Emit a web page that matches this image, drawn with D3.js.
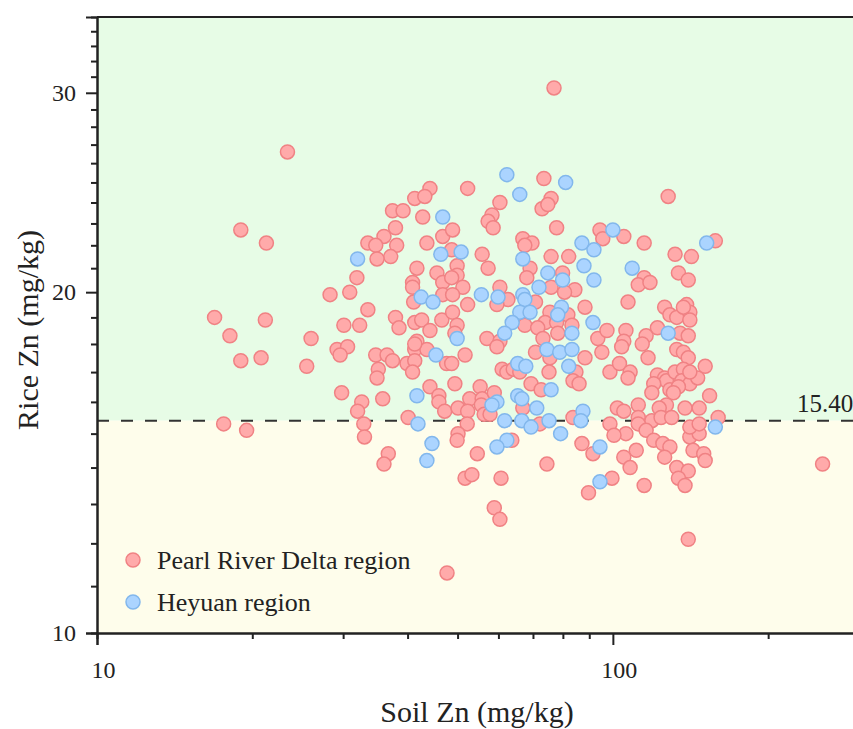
<!DOCTYPE html>
<html>
<head>
<meta charset="utf-8">
<script src="https://cdn.jsdelivr.net/npm/d3@7"></script>
<style>
  body { margin: 0; background: #fff; }
  svg { display: block; overflow: hidden; }
  text { font-family: "Liberation Serif", "Times New Roman", serif; fill: #222; }
</style>
</head>
<body>
<svg width="853" height="729"></svg>
<script>
// Data: [soil Zn, rice Zn] in mg/kg
var pearlRiver = [
  [16.9,19.0],[18.1,18.3],[19.0,22.7],[19.0,17.4],[17.6,15.3],[19.5,15.1],[20.8,17.5],[21.3,22.1],[21.2,18.9],[23.4,26.6],[25.5,17.2],[26.0,18.2],[28.3,19.9],
  [44.2,24.7],[41.3,24.2],[43.2,24.3],[37.4,23.6],[39.2,23.6],[42.8,23.3],[37.9,22.8],[36.0,22.4],[33.5,22.1],[34.7,22.0],[38.1,22.0],[43.6,22.1],[46.8,22.4],
  [37.1,21.5],[34.9,21.4],[41.7,21.0],[45.6,20.8],[31.9,20.6],[40.9,20.4],[40.9,20.2],[46.8,20.4],[30.9,20.0],[41.1,19.6],[46.8,19.9],[33.5,19.3],[37.9,19.0],
  [38.5,18.6],[30.1,18.7],[32.3,18.7],[41.3,18.8],[42.6,18.9],[44.2,18.5],[46.6,18.9],[41.7,18.1],[29.2,17.8],[30.6,17.9],[29.6,17.6],[34.7,17.6],[36.5,17.6],
  [37.4,17.4],[41.3,17.8],[43.6,17.8],
  [73.5,25.2],[52.3,24.7],[75.9,24.2],[60.4,24.0],[72.9,23.7],[74.8,23.9],[58.3,23.4],[57.3,23.1],[58.6,22.8],[77.8,22.8],[48.9,22.7],[66.9,22.3],[69.7,22.1],
  [67.5,22.0],[55.8,21.6],[57.3,21.0],[75.9,21.5],[82.1,21.5],[69.1,21.0],[48.7,21.8],[49.9,21.1],[49.9,20.7],[48.7,20.6],[79.9,20.8],[68.1,20.6],[51.2,20.2],
  [60.4,20.2],[75.9,20.2],[84.4,20.1],[80.6,20.0],[62.6,19.7],[48.9,19.9],[48.9,19.2],[52.3,19.5],[59.6,19.5],[70.8,19.6],[88.3,19.4],[75.5,19.2],[81.8,19.1],
  [73.9,18.8],[77.8,18.8],[67.5,18.7],[49.9,18.7],[49.4,18.4],[71.5,18.6],[83.3,18.7],[78.2,18.4],[57.0,18.2],[60.4,18.1],[59.6,17.9],[73.2,18.2],[93.5,18.2],
  [51.7,17.6],[70.8,17.7],[88.3,17.5],
  [128,24.3],[94.4,22.7],[95.6,22.3],[105,22.4],[115,22.1],[158,22.2],[132,21.6],[142,21.5],[134,20.8],[140,20.5],[115,20.6],[112,20.3],[118,20.4],[107,19.6],
  [126,19.4],[129,19.1],[133,19.0],[139,19.5],[141,19.2],[141,18.9],[137,19.4],[122,18.6],[135,18.4],[140,18.3],[97.4,18.5],[106,18.5],[105,18.1],[104,17.9],
  [116,18.3],[114,18.0],[133,17.8],[137,17.7],[140,17.5],[95.2,17.7],[117,17.5],
  [35.1,17.1],[34.9,16.8],[41.3,18.0],[39.9,17.3],[41.3,17.4],[40.9,17.0],[47.6,17.3],[29.8,16.3],[35.8,16.1],[32.6,16.0],[32.0,15.7],[44.2,16.5],[46.0,16.2],
  [46.0,16.0],[47.2,15.7],[40.1,15.5],[32.9,15.3],[33.0,14.9],[36.7,14.4],[36.0,14.1],
  [48.7,17.3],[75.5,17.5],[61.0,17.1],[62.3,17.0],[64.1,17.1],[66.0,17.0],[84.8,17.0],[83.7,16.7],[86.0,16.6],[75.2,17.0],[49.4,16.6],[55.3,16.5],[69.4,16.6],
  [72.6,16.4],[52.8,16.1],[50.1,15.8],[52.3,15.7],[55.8,16.1],[55.6,15.9],[58.9,16.3],[66.9,15.8],[56.3,15.6],[57.8,15.6],[83.7,15.5],[72.2,15.3],[52.2,15.3],
  [50.1,15.0],[49.9,14.8],[63.7,14.8],[87.1,14.7],[91.5,14.4],[54.6,14.4],[74.5,14.1],[51.7,13.7],[53.3,13.8],[60.7,13.7],[89.7,13.3],[58.9,12.9],[60.4,12.6],
  [98.7,17.0],[103,17.3],[108,17.0],[107,16.8],[122,16.9],[126,16.8],[127,16.7],[120,16.6],[132,17.0],[137,17.1],[136,16.7],[141,16.6],[146,16.8],[151,17.2],
  [119,16.3],[129,16.4],[134,16.5],[131,16.3],[112,15.9],[127,15.9],[123,15.8],[138,15.8],[147,15.8],[154,16.2],[102,15.8],[105,15.7],[112,15.5],[119,15.4],
  [124,15.5],[130,15.5],[112,15.3],[116,15.1],[98.7,15.3],[106,15.0],[100.5,14.95],[160,15.5],[120,14.8],[125,14.7],[129,14.6],[141,14.9],[147,15.0],[111,14.5],
  [105,14.3],[126,14.3],[143,14.5],[150,14.4],[151,14.2],[108,14.0],[133,14.0],[140,13.9],[134,13.7],[138,13.5],[99.6,13.7],[115,13.5],[140,12.1],
  [141,17.0],[141,15.2],[147,15.3],[255,14.1],[76.9,30.3],[47.7,11.3]
];

var heyuan = [
  [46.8,23.3],[32.0,21.4],[46.4,21.6],[42.5,19.8],[44.8,19.6],[45.4,17.6],[41.7,16.2],[41.9,15.3],[44.6,14.7],[43.6,14.2],
  [62.3,25.4],[81.0,25.0],[66.0,24.4],[87.1,22.1],[91.9,21.8],[50.8,21.7],[66.9,21.4],[87.9,21.1],[74.8,20.8],[79.9,20.5],
  [91.9,20.5],[71.9,20.2],[55.6,19.9],[59.9,19.8],[66.9,19.9],[67.5,19.7],[79.5,19.4],[66.0,19.2],[69.1,19.2],[78.2,19.1],
  [63.8,18.8],[91.5,18.8],[49.9,18.2],[83.3,18.4],[61.7,18.4],[74.5,17.8],[78.9,17.7],[83.3,17.8],[65.4,17.3],[67.8,17.2],
  [82.1,17.2],[75.9,16.4],[65.4,16.2],[66.6,16.1],[59.6,16.0],[58.3,15.9],[71.2,15.8],[87.5,15.7],[86.7,15.4],[61.7,15.4],
  [66.6,15.4],[69.4,15.2],[75.2,15.4],[79.2,15.0],[62.3,14.8],[59.6,14.6],[94.4,14.6],[94.4,13.6],[100,22.7],[152,22.1],
  [109,21.0],[128,18.4],[158,15.2]
];

var threshold = 15.40;
var xDomain = [10, 300];
var yDomain = [10, 35];
var yMajor = [10, 20, 30];
var yMinor = [11, 12, 13, 14, 15, 16, 17, 18, 19, 21, 22, 23, 24, 25, 26, 27, 28, 29, 31, 32, 33, 34];
var xMajor = [10, 100];
var xMinor = [20, 30, 40, 50, 60, 70, 80, 90, 200];
var legendItems = ["Pearl River Delta region", "Heyuan region"];

var svg = d3.select("svg");
var marginLeft = 97, marginTop = 17, plotW = 762, plotH = 616;
var plotBottom = marginTop + plotH;

var x = d3.scaleLog().domain(xDomain).range([marginLeft, marginLeft + plotW]);
var y = d3.scaleLog().domain(yDomain).range([plotBottom, marginTop]);

var redFill = "#ffaaaa", redStroke = "#f08284";
var blueFill = "#abd4ff", blueStroke = "#82b7ec";

// background zones
svg.append("rect")
  .attr("x", marginLeft).attr("y", marginTop)
  .attr("width", plotW).attr("height", y(threshold) - marginTop)
  .attr("fill", "#e7fce6");
svg.append("rect")
  .attr("x", marginLeft).attr("y", y(threshold))
  .attr("width", plotW).attr("height", plotBottom - y(threshold))
  .attr("fill", "#fefdeb");

// threshold line
svg.append("line")
  .attr("x1", marginLeft).attr("x2", marginLeft + plotW)
  .attr("y1", y(threshold)).attr("y2", y(threshold))
  .attr("stroke", "#333").attr("stroke-width", 2)
  .attr("stroke-dasharray", "12,12");
svg.append("text")
  .attr("x", 797).attr("y", y(threshold) - 9)
  .attr("font-size", "25px")
  .text(threshold.toFixed(2));

// points
function drawPoints(data, fill, stroke) {
  svg.append("g").selectAll("circle")
    .data(data)
    .enter()
    .append("circle")
    .attr("cx", function(d) { return x(d[0]); })
    .attr("cy", function(d) { return y(d[1]); })
    .attr("r", 7)
    .attr("fill", fill)
    .attr("stroke", stroke)
    .attr("stroke-width", 1.5);
}
drawPoints(pearlRiver, redFill, redStroke);
drawPoints(heyuan, blueFill, blueStroke);

// frame (top border)
svg.append("line")
  .attr("x1", marginLeft).attr("x2", marginLeft + plotW)
  .attr("y1", marginTop).attr("y2", marginTop)
  .attr("stroke", "#222").attr("stroke-width", 2);

// axes
function styleAxis(g) {
  g.select(".domain").attr("stroke", "#222").attr("stroke-width", 2);
  g.selectAll(".tick line").attr("stroke", "#222").attr("stroke-width", 2);
  g.selectAll(".tick text").attr("font-size", "24px").attr("fill", "#222")
    .style("font-family", "'Liberation Serif', 'Times New Roman', serif");
}

svg.append("g")
  .attr("transform", "translate(" + marginLeft + ",0)")
  .call(d3.axisLeft(y).tickValues(yMinor).tickSize(6).tickFormat(""))
  .call(styleAxis);
svg.append("g")
  .attr("transform", "translate(" + marginLeft + ",0)")
  .call(d3.axisLeft(y).tickValues(yMajor).tickSize(11).tickPadding(10).tickFormat(d3.format("d")))
  .call(styleAxis);

svg.append("g")
  .attr("transform", "translate(0," + plotBottom + ")")
  .call(d3.axisBottom(x).tickValues(xMinor).tickSize(6).tickFormat(""))
  .call(styleAxis);
svg.append("g")
  .attr("transform", "translate(0," + plotBottom + ")")
  .call(d3.axisBottom(x).tickValues(xMajor).tickSize(12).tickPadding(16).tickFormat(d3.format("d")))
  .call(styleAxis)
  .selectAll(".tick text").attr("dx", 6);

// axis titles
svg.append("text")
  .attr("x", 477).attr("y", 722)
  .attr("text-anchor", "middle")
  .attr("font-size", "30px")
  .text("Soil Zn (mg/kg)");
svg.append("text")
  .attr("transform", "translate(38," + 330 + ") rotate(-90)")
  .attr("text-anchor", "middle")
  .attr("font-size", "30px")
  .text("Rice Zn (mg/kg)");

// legend
var legend = svg.append("g");
legendItems.forEach(function(name, i) {
  var ly = 560 + i * 42;
  legend.append("circle")
    .attr("cx", 133).attr("cy", ly).attr("r", 7)
    .attr("fill", i === 0 ? redFill : blueFill)
    .attr("stroke", i === 0 ? redStroke : blueStroke)
    .attr("stroke-width", 1.5);
  legend.append("text")
    .attr("x", 157).attr("y", ly + 9)
    .attr("font-size", "26px")
    .text(name);
});
</script>
</body>
</html>
